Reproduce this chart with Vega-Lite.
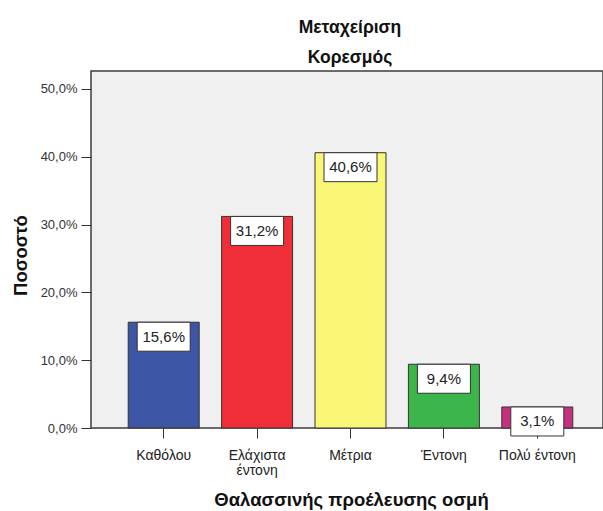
{
  "$schema": "https://vega.github.io/schema/vega-lite/v6.json",
  "width": 512,
  "height": 357,
  "autosize": {"type": "none"},
  "padding": {"left": 91, "top": 71, "right": 0, "bottom": 83},
  "background": "white",
  "config": {
    "locale": {"number": {"decimal": ",", "thousands": ".", "grouping": [3], "currency": ["", " €"]}},
    "font": "Liberation Sans",
    "view": {"fill": "#f0f0f0", "stroke": "#3c3c3c", "strokeWidth": 1.5}
  },
  "title": {
    "text": "Μεταχείριση",
    "subtitle": "Κορεσμός",
    "anchor": "middle",
    "dx": 3,
    "font": "Liberation Sans",
    "subtitleFont": "Liberation Sans",
    "fontSize": 17.5,
    "fontWeight": "bold",
    "subtitleFontSize": 17.5,
    "subtitleFontWeight": "bold",
    "color": "#111111",
    "subtitleColor": "#111111",
    "offset": 5,
    "subtitlePadding": 12
  },
  "data": {
    "values": [
      {"category": "Καθόλου", "pct": 0.156},
      {"category": "Ελάχιστα έντονη", "pct": 0.312},
      {"category": "Μέτρια", "pct": 0.406},
      {"category": "Έντονη", "pct": 0.094},
      {"category": "Πολύ έντονη", "pct": 0.031}
    ]
  },
  "encoding": {
    "x": {
      "field": "category",
      "type": "nominal",
      "sort": null,
      "scale": {"range": [26, 493], "paddingInner": 0.24, "paddingOuter": 0.12},
      "axis": {
        "title": "Θαλασσινής προέλευσης οσμή",
        "labelAngle": 0,
        "domain": false,
        "grid": false,
        "tickSize": 10,
        "tickColor": "#333333",
        "labelPadding": 10,
        "labelFontSize": 14,
        "labelColor": "#222222",
        "labelLineHeight": 15,
        "labelExpr": "datum.label == 'Ελάχιστα έντονη' ? ['Ελάχιστα', 'έντονη'] : datum.label",
        "titleFontSize": 18.5,
        "titleFontWeight": "bold",
        "titleColor": "#111111",
        "titleX": 260,
        "titleY": 77,
        "titleAlign": "center",
        "titleBaseline": "alphabetic"
      }
    },
    "y": {
      "field": "pct",
      "type": "quantitative",
      "scale": {"domain": [0, 0.5265], "nice": false},
      "axis": {
        "title": "Ποσοστό",
        "format": ".1%",
        "values": [0, 0.1, 0.2, 0.3, 0.4, 0.5],
        "grid": false,
        "domain": false,
        "tickSize": 10,
        "tickColor": "#333333",
        "labelPadding": 4,
        "labelFontSize": 13,
        "labelColor": "#333333",
        "titleFontSize": 18.5,
        "titleFontWeight": "bold",
        "titleColor": "#111111",
        "titleX": -71,
        "titleY": 184,
        "titleAngle": 270,
        "titleAlign": "center",
        "titleBaseline": "middle"
      }
    }
  },
  "layer": [
    {
      "mark": {"type": "bar", "stroke": "#333333", "strokeWidth": 1},
      "encoding": {
        "color": {
          "field": "category",
          "type": "nominal",
          "sort": null,
          "scale": {
            "domain": ["Καθόλου", "Ελάχιστα έντονη", "Μέτρια", "Έντονη", "Πολύ έντονη"],
            "range": ["#3d55a5", "#ef2e38", "#fbf776", "#3cb64a", "#c5317f"]
          },
          "legend": null
        }
      }
    },
    {
      "mark": {
        "type": "point",
        "shape": "M-1,-0.547L1,-0.547L1,0.547L-1,0.547Z",
        "size": 2809,
        "filled": true,
        "fill": "white",
        "stroke": "#333333",
        "strokeWidth": 1,
        "opacity": 1,
        "yOffset": 14.5
      }
    },
    {
      "mark": {"type": "text", "yOffset": 14.5, "fontSize": 15, "color": "#222222", "baseline": "middle", "align": "center"},
      "encoding": {"text": {"field": "pct", "type": "quantitative", "format": ".1%"}}
    }
  ]
}
